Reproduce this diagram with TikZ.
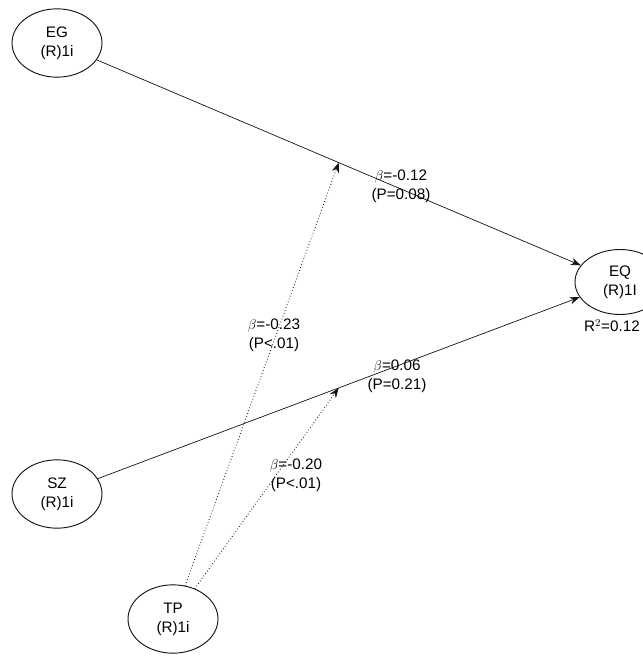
\documentclass[tikz,border=0pt]{standalone}
\usepackage{fontspec}
\setmainfont{Liberation Sans}
\usepackage{tikz}
\usetikzlibrary{arrows.meta,positioning,shapes.geometric,calc}
\definecolor{linegray}{RGB}{20,20,20}
\tikzset{
  latent/.style={
    draw=linegray,
    ellipse,
    thick,
    align=center,
    minimum width=2.7cm,
    minimum height=2.05cm,
    inner sep=1pt,
    font=\fontsize{13}{16}\selectfont
  },
  effect/.style={-{Stealth[length=3mm,width=2.2mm]}, draw=linegray, semithick},
  moderate/.style={effect, dotted, thick},
  coef/.style={align=center, inner sep=1pt, font=\fontsize{13}{16}\selectfont}
}

\begin{document}
\begin{tikzpicture}[x=0.03cm, y=-0.03cm]
    \clip (0,0) rectangle (643,659);
    \node[latent] (eg) at (57,43) {EG\\(R)1i};
    \node[latent, minimum height=1.95cm] (eq) at (620,282) {EQ\\(R)1I};
    \node[latent] (sz) at (57,494) {SZ\\(R)1i};
    \node[latent] (tp) at (173,619) {TP\\(R)1i};
    \node[coef] (r2) at (612,326) {R$^2$=0.12};
    \draw[effect] (eg) -- coordinate[pos=0.5] (m1) (eq);
    \draw[effect] (sz) -- coordinate[pos=0.5] (m2) (eq);
    \draw[moderate] (tp) -- (m1);
    \draw[moderate] (tp) -- (m2);
    \node[coef] (c1) at (401,186) {$\beta$=-0.12\\(P=0.08)};
    \node[coef] (c2) at (274,335) {$\beta$=-0.23\\(P<.01)};
    \node[coef] (c3) at (397,376) {$\beta$=0.06\\(P=0.21)};
    \node[coef] (c4) at (296,475) {$\beta$=-0.20\\(P<.01)};
  \end{tikzpicture}
\end{document}
